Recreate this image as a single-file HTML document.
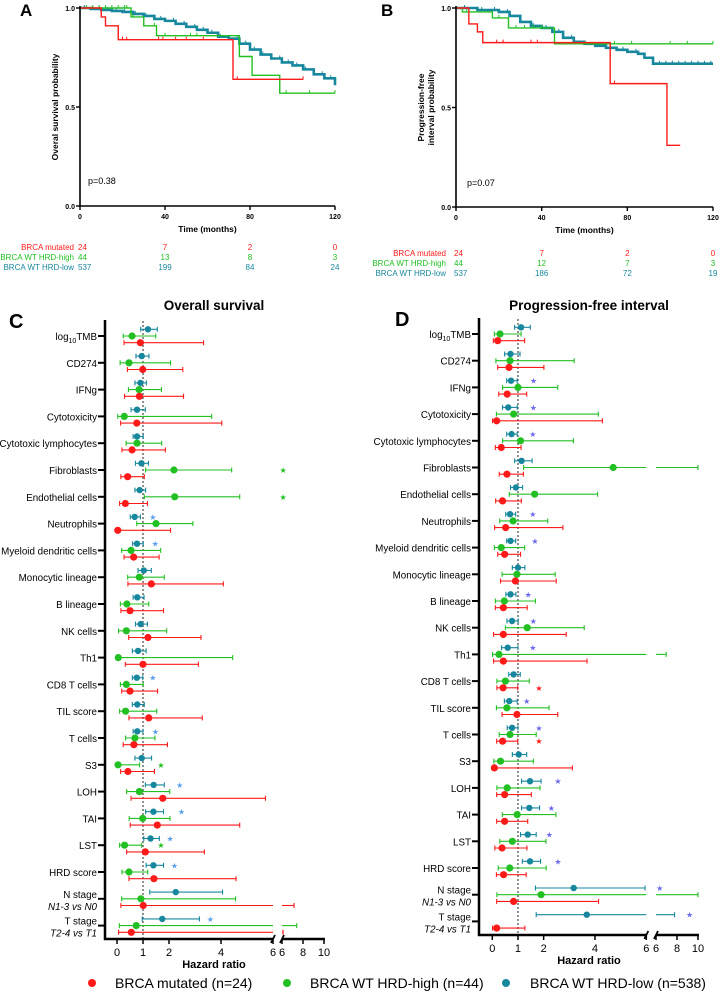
<!DOCTYPE html>
<html><head><meta charset="utf-8"><style>
html,body{margin:0;padding:0;background:#fff;}
svg{display:block;font-family:"Liberation Sans",Arial,sans-serif;}
</style></head><body>
<svg id="fig" width="720" height="992" viewBox="0 0 720 992" xmlns="http://www.w3.org/2000/svg">
<g id="pa"></g>
<g id="pb"></g>
<g id="pc"></g>
<g id="pd"></g>
<g>
  <circle cx="92" cy="983" r="4" fill="#ff1a1a"/>
  <text x="115" y="988" font-size="14">BRCA mutated (n=24)</text>
  <circle cx="287" cy="983" r="4" fill="#22c022"/>
  <text x="310" y="988" font-size="14">BRCA WT HRD-high (n=44)</text>
  <circle cx="506" cy="983" r="4" fill="#17879e"/>
  <text x="530" y="988" font-size="14">BRCA WT HRD-low (n=538)</text>
</g>
</svg>
<script>
// ===== KM data =====
const kmTicks = [0, 40, 80, 120];
const aRedT = [0, 10, 12, 18, 72, 105];
const aRedS = [1, 0.955, 0.91, 0.84, 0.64, 0.64];
const aGreenT = [0, 24, 30, 36, 75, 81, 94, 120];
const aGreenS = [1, 0.955, 0.91, 0.86, 0.755, 0.66, 0.57, 0.57];
const aBlueT = [0, 5, 10, 15, 20, 25, 30, 35, 40, 45, 50, 55, 60, 65, 70, 75, 80, 85, 90, 95, 100, 105, 110, 115, 120];
const aBlueS = [1, 0.995, 0.99, 0.985, 0.98, 0.97, 0.96, 0.945, 0.935, 0.92, 0.905, 0.89, 0.875, 0.855, 0.845, 0.82, 0.79, 0.765, 0.745, 0.725, 0.71, 0.69, 0.665, 0.645, 0.61];
const aRedCens = [20, 22, 37, 39, 45, 50, 58, 74, 105];
const aGreenCens = [3, 6, 9, 12, 15, 18, 21, 22, 25, 35, 40, 52, 55, 97, 108, 120];
const aBlueCens = [2, 6, 9, 13, 17, 21, 26, 31, 38, 44, 49, 54, 58, 62, 66, 70, 74, 78, 82, 86, 90, 94, 98, 102, 106, 110, 114, 118];
const bRedT = [0, 6, 10, 12.5, 72, 98.5, 104.7];
const bRedS = [1, 0.92, 0.88, 0.826, 0.62, 0.31, 0.31];
const bGreenT = [0, 3, 17, 24.5, 46, 120];
const bGreenS = [1, 0.98, 0.95, 0.90, 0.82, 0.82];
const bBlueT = [0, 10, 20, 25, 30, 35, 40, 45, 50, 55, 60, 65, 70, 75, 80, 85, 88, 92, 120];
const bBlueS = [1, 0.99, 0.98, 0.96, 0.93, 0.91, 0.90, 0.88, 0.85, 0.83, 0.82, 0.81, 0.80, 0.79, 0.78, 0.77, 0.75, 0.72, 0.72];
const bRedCens = [19, 22, 35, 38, 74];
const bGreenCens = [5, 20, 28, 32, 36, 40, 60, 74, 82, 100, 108, 120];
const bBlueCens = [4, 12, 18, 24, 30, 36, 42, 48, 54, 60, 66, 72, 78, 84, 92, 95, 98, 101, 104, 107, 110, 113, 116, 119];
const riskA = [["BRCA mutated", 24, 7, 2, 0], ["BRCA WT HRD-high", 44, 13, 8, 3], ["BRCA WT HRD-low", 537, 199, 84, 24]];
const riskB = [["BRCA mutated", 24, 7, 2, 0], ["BRCA WT HRD-high", 44, 12, 7, 3], ["BRCA WT HRD-low", 537, 186, 72, 19]];

// ===== Forest data =====
const rowLabels = ["log10TMB","CD274","IFNg","Cytotoxicity","Cytotoxic lymphocytes","Fibroblasts","Endothelial cells","Neutrophils","Myeloid dendritic cells","Monocytic lineage","B lineage","NK cells","Th1","CD8 T cells","TIL score","T cells","S3","LOH","TAI","LST","HRD score","N stage","T stage"];
const hrTicks = [0, 1, 2, 4, 6];
const hrTicks2 = [6, 8, 10];
// Panel C (overall survival)
const cBlueHR = [1.19,0.95,0.90,0.77,0.77,0.94,0.87,0.68,0.77,1.03,0.78,0.91,0.81,0.76,0.78,0.78,0.95,1.41,1.40,1.29,1.40,2.26,1.74];
const cBlueLo = [0.91,0.73,0.69,0.54,0.62,0.71,0.69,0.51,0.60,0.81,0.62,0.71,0.59,0.59,0.59,0.62,0.69,1.09,1.10,1.03,1.12,1.26,0.97];
const cBlueHi = [1.55,1.23,1.13,1.09,1.01,1.21,1.10,0.90,1.01,1.32,1.04,1.17,1.12,0.99,1.05,1.00,1.33,1.82,1.79,1.63,1.79,4.06,3.17];
const cBlueStar = [null,null,null,null,null,null,null,1.38,1.47,null,null,null,null,1.38,null,1.48,null,2.41,2.48,2.04,2.21,null,3.59];
const cGreenHR = [0.58,0.46,0.85,0.28,0.77,2.19,2.22,1.50,0.54,0.86,0.38,0.36,0.05,0.36,0.33,0.69,0.04,0.86,0.99,0.29,0.46,0.92,0.74];
const cGreenLo = [0.24,0.12,0.44,0.03,0.35,1.10,1.05,0.76,0.18,0.41,0.13,0.06,0.05,0.13,0.10,0.33,0.04,0.37,0.47,0.10,0.19,0.18,0.09];
const cGreenHi = [1.49,2.06,1.71,3.64,1.72,4.41,4.72,2.92,1.68,1.82,1.22,1.91,4.45,1.01,1.53,1.46,0.87,2.03,2.04,0.95,1.18,4.56,7.4];
const cGreenStar = [null,null,null,null,null,6.1,6.1,null,null,null,null,null,null,null,null,null,1.69,null,null,1.69,null,null,null];
const cRedHR = [0.90,0.99,0.86,0.76,0.58,0.41,0.32,0.03,0.64,1.32,0.50,1.19,1.00,0.50,1.22,0.65,0.42,1.76,1.55,1.09,1.42,1.01,0.55];
const cRedLo = [0.27,0.40,0.29,0.14,0.19,0.15,0.10,0.02,0.27,0.42,0.15,0.45,0.32,0.18,0.46,0.24,0.14,0.54,0.51,0.37,0.46,0.15,0.06];
const cRedHi = [3.33,2.53,2.56,4.03,1.86,1.05,1.17,2.06,1.62,4.09,1.79,3.23,3.13,1.56,3.28,1.94,1.44,5.71,4.72,3.36,4.58,7.15,6.1];
// Panel D (progression-free interval)
const dBlueHR = [1.12,0.71,0.73,0.62,0.75,1.14,0.92,0.69,0.71,1.00,0.71,0.77,0.60,0.83,0.66,0.77,1.03,1.47,1.44,1.38,1.47,3.17,3.68];
const dBlueLo = [0.87,0.48,0.56,0.40,0.56,0.87,0.71,0.52,0.56,0.78,0.53,0.57,0.36,0.64,0.47,0.58,0.78,1.14,1.14,1.10,1.17,1.68,1.71];
const dBlueHi = [1.48,1.08,0.97,0.97,0.97,1.55,1.18,0.91,0.91,1.27,0.92,1.01,1.00,1.09,0.97,1.00,1.34,1.90,1.84,1.71,1.88,5.95,7.77];
const dBlueStar = [null,null,1.61,1.60,1.58,null,null,1.58,1.66,null,1.40,1.60,1.58,null,1.34,1.82,null,2.56,2.30,2.22,2.56,6.35,9.2];
const dGreenHR = [0.30,0.69,1.00,0.83,1.10,4.71,1.65,0.81,0.35,0.96,0.47,1.36,0.26,0.51,0.57,0.69,0.32,0.58,0.97,0.78,0.68,1.90,null];
const dGreenLo = [0.08,0.14,0.40,0.16,0.40,1.22,0.66,0.29,0.08,0.38,0.12,0.51,0.01,0.18,0.16,0.27,0.06,0.18,0.39,0.29,0.23,0.18,null];
const dGreenHi = [1.12,3.19,2.55,4.13,3.16,10,4.10,2.16,1.26,2.45,1.68,3.58,6.97,1.44,2.21,1.71,1.60,1.86,2.48,2.09,2.10,10,null];
const dRedHR = [0.21,0.65,0.58,0.17,0.35,0.57,0.40,0.52,0.48,0.90,0.43,0.43,0.43,0.42,0.96,0.40,0.08,0.48,0.48,0.38,0.44,0.83,0.17];
const dRedLo = [0.04,0.21,0.25,0.01,0.12,0.27,0.13,0.09,0.21,0.32,0.12,0.05,0.05,0.18,0.38,0.17,0.01,0.17,0.17,0.10,0.16,0.17,0.01];
const dRedHi = [1.26,2.01,1.34,4.29,1.12,1.21,1.13,2.75,1.10,2.49,1.36,2.88,3.69,0.99,2.55,0.99,3.12,1.52,1.38,1.35,1.32,4.14,1.27];
const dRedStar = [null,null,null,null,null,null,null,null,null,null,null,null,null,1.82,null,1.82,null,null,null,null,null,null,null];

const NS = "http://www.w3.org/2000/svg";
const RED = "#ff1a1a", GREEN = "#22c022", BLUE = "#17879e";
function mk(tag, attrs, parent) {
  const el = document.createElementNS(NS, tag);
  for (const k in attrs) el.setAttribute(k, attrs[k]);
  parent.appendChild(el);
  return el;
}

// ===== KM panels =====
function drawKM(g, cfg) {
  const xS = t => cfg.x0 + (cfg.x1 - cfg.x0) * t / 120;
  const yS = s => cfg.y0 + (cfg.y1 - cfg.y0) * (1 - s);
  let el = mk("text", {x: cfg.letterX, y: 16, "font-size": 17, "font-weight": "bold"}, g);
  
  
  el.textContent = cfg.letter;
  const series = [[cfg.blueT, cfg.blueS, cfg.blueC, BLUE, 2.6], [cfg.greenT, cfg.greenS, cfg.greenC, GREEN, 1.4], [cfg.redT, cfg.redS, cfg.redC, RED, 1.4]];
  series.forEach((sr, si) => {
    const [T, S, C, col, w] = sr;
    let d = "M" + xS(T[0]) + " " + yS(S[0]);
    for (let i = 1; i < T.length; i++) d += " H" + xS(T[i]) + " V" + yS(S[i]);
    const p = mk("path", {d: d, fill: "none", stroke: col, "stroke-width": w}, g);
    
    
    C.forEach(t => {
      let s = S[0];
      for (let i = 0; i < T.length; i++) if (T[i] <= t) s = S[i];
      const c = mk("line", {x1: xS(t), x2: xS(t), y1: yS(s) - 3, y2: yS(s), stroke: col, "stroke-width": 1}, g);
      
      
    });
  });
  const ax = mk("path", {d: `M${cfg.x0} ${cfg.y0 - 2} V${cfg.y1} H${cfg.x1}`, fill: "none", stroke: "#000", "stroke-width": 1.6}, g);
  
  
  [1, 0.5, 0].forEach(v => {
    const tk = mk("line", {x1: cfg.x0 - 4, x2: cfg.x0, y1: yS(v), y2: yS(v), stroke: "#000", "stroke-width": 1.4}, g);
    
    
    const tl = mk("text", {x: cfg.x0 - 5, y: yS(v) + 3, "font-size": 7, "font-weight": "bold", "text-anchor": "end"}, g);
    
    
    tl.textContent = v.toFixed(1);
  });
  kmTicks.forEach(t => {
    const tk = mk("line", {x1: xS(t), x2: xS(t), y1: cfg.y1, y2: cfg.y1 + 4, stroke: "#000", "stroke-width": 1.4}, g);
    
    
    const tl = mk("text", {x: xS(t), y: cfg.y1 + 13, "font-size": 7, "font-weight": "bold", "text-anchor": "middle"}, g);
    
    
    tl.textContent = t;
  });
  const xt = mk("text", {x: (cfg.x0 + cfg.x1) / 2, y: cfg.y1 + 26, "font-size": 8.5, "font-weight": "bold", "text-anchor": "middle"}, g);
  
  
  xt.textContent = "Time (months)";
  const yt = mk("text", {transform: `translate(${cfg.ytX},${(cfg.y0 + cfg.y1) / 2}) rotate(-90)`, "font-size": 8.5, "font-weight": "bold", "text-anchor": "middle"}, g);
  
  
  cfg.ytitle.forEach((line, i) => {
    const ts = mk("tspan", {x: 0, dy: i === 0 ? (cfg.ytitle.length > 1 ? -2 : 0) : 10}, yt);
    ts.textContent = line;
  });
  const pv = mk("text", {x: cfg.pX, y: cfg.pY, "font-size": 9}, g);
  
  
  pv.textContent = cfg.p;
  const cols = [RED, GREEN, BLUE];
  cfg.risk.forEach((row, ri) => {
    const y = cfg.riskY + ri * 10;
    const lab = mk("text", {x: cfg.riskLabelX, y: y, "font-size": 8, fill: cols[ri], "text-anchor": "end"}, g);
    
    
    lab.textContent = row[0];
    for (let k = 0; k < 4; k++) {
      const n = mk("text", {x: k === 0 ? cfg.x0 - 2 : xS(kmTicks[k]), y: y, "font-size": 8, fill: cols[ri], "text-anchor": k === 0 ? "start" : "middle"}, g);
      
      
      n.textContent = row[k + 1];
    }
  });
}
drawKM(document.getElementById("pa"), {letter: "A", letterX: 20, x0: 80, x1: 335, y0: 8, y1: 206, ytX: 58, ytitle: ["Overal survival probability"], p: "p=0.38", pX: 88, pY: 184,
  redT: aRedT, redS: aRedS, redC: aRedCens, greenT: aGreenT, greenS: aGreenS, greenC: aGreenCens, blueT: aBlueT, blueS: aBlueS, blueC: aBlueCens,
  risk: riskA, riskY: 250, riskLabelX: 74});
drawKM(document.getElementById("pb"), {letter: "B", letterX: 381, x0: 456, x1: 713, y0: 8, y1: 207, ytX: 426, ytitle: ["Progression-free", "interval probability"], p: "p=0.07", pX: 467, pY: 186,
  redT: bRedT, redS: bRedS, redC: bRedCens, greenT: bGreenT, greenS: bGreenS, greenC: bGreenCens, blueT: bBlueT, blueS: bBlueS, blueC: bBlueCens,
  risk: riskB, riskY: 256, riskLabelX: 446});

// ===== Forest panels =====
const LFS = 9.8;
function drawForest(g, cfg) {
  const X = v => v <= 6 ? cfg.z + cfg.u * v : cfg.b6 + cfg.u2 * (v - 6);
  const rowY = i => cfg.r0 + i * cfg.rs;
  const brk = X(6);
  let el = mk("text", {x: cfg.letterX, y: cfg.r0 - 8, "font-size": 20, "font-weight": "bold"}, g);
  
  
  el.textContent = cfg.letter;
  const tt = mk("text", {x: cfg.titleX, y: 310, "font-size": 13.5, "font-weight": "bold", "text-anchor": "middle"}, g);
  
  
  tt.textContent = cfg.title;
  const ref = mk("line", {x1: X(1), x2: X(1), y1: cfg.r0 - 15, y2: cfg.axY, stroke: "#555", "stroke-width": 1.3, "stroke-dasharray": "2,2"}, g);
  
  
  function bar(i, hr, lo, hi, col, off, name) {
    if (hr === null) return;
    const y = rowY(i) + off;
    const gg = mk("g", {}, g);
    
    
    if (hi > 6 && lo < 6) {
      mk("line", {x1: X(lo), x2: brk, y1: y, y2: y, stroke: col, "stroke-width": 1.1}, gg);
      mk("line", {x1: cfg.b6, x2: X(hi), y1: y, y2: y, stroke: col, "stroke-width": 1.1}, gg);
    } else {
      mk("line", {x1: X(lo), x2: X(hi), y1: y, y2: y, stroke: col, "stroke-width": 1.1}, gg);
    }
    mk("line", {x1: X(lo), x2: X(lo), y1: y - 2.5, y2: y + 2.5, stroke: col, "stroke-width": 1.1}, gg);
    mk("line", {x1: X(hi), x2: X(hi), y1: y - 2.5, y2: y + 2.5, stroke: col, "stroke-width": 1.1}, gg);
    mk("circle", {cx: X(hr), cy: y, r: col === BLUE ? 3.2 : 3.6, fill: col}, gg);
  }
  function star(i, v, col, off) {
    if (v === null || v === undefined) return;
    const s = mk("text", {x: X(v), y: rowY(i) + off + 3, "font-size": 8, fill: col, "text-anchor": "middle"}, g);
    
    
    s.textContent = "★";
  }
  rowLabels.forEach((lab, i) => {
    const y = rowY(i);
    const tk = mk("line", {x1: cfg.ax - 7, x2: cfg.ax, y1: y, y2: y, stroke: "#000", "stroke-width": 2}, g);
    
    
    const t = mk("text", {x: cfg.ax - 8, y: y + 4, "font-size": LFS, "text-anchor": "end"}, g);
    
    
    if (lab === "log10TMB") {
      const a = mk("tspan", {}, t); a.textContent = "log";
      const b = mk("tspan", {"font-size": 7, dy: 3}, t); b.textContent = "10";
      const c = mk("tspan", {dy: -3}, t); c.textContent = "TMB";
    } else if (lab === "N stage" || lab === "T stage") {
      t.setAttribute("y", y - 1);
      t.textContent = lab;
      const t2 = mk("text", {x: cfg.ax - 8, y: y + 11, "font-size": LFS, "font-style": "italic", "text-anchor": "end"}, g);
      
      
      t2.textContent = lab === "N stage" ? "N1-3 vs N0" : "T2-4 vs T1";
    } else t.textContent = lab;
    bar(i, cfg.bH[i], cfg.bL[i], cfg.bU[i], BLUE, -6.7, 'ci-hrd-low');
    bar(i, cfg.gH[i], cfg.gL[i], cfg.gU[i], GREEN, 0, 'ci-hrd-high');
    bar(i, cfg.rH[i], cfg.rL[i], cfg.rU[i], RED, 6.7, 'ci-brca-mutated');
    star(i, cfg.bS[i], cfg.bSC, -6.7);
    if (cfg.gS) star(i, cfg.gS[i], GREEN, 0);
    if (cfg.rS) star(i, cfg.rS[i], RED, 6.7);
  });
  const ax = mk("path", {d: `M${cfg.ax} ${cfg.r0 - 16} V${cfg.axY} H${brk}`, fill: "none", stroke: "#000", "stroke-width": 2.5}, g);
  
  
  const ax2 = mk("line", {x1: cfg.b6, x2: X(10) + 1, y1: cfg.axY, y2: cfg.axY, stroke: "#000", "stroke-width": 2.5}, g);
  
  
  [brk, cfg.b6].forEach(bx => {
    const s = mk("line", {x1: bx - 2, x2: bx + 2, y1: cfg.axY + 4, y2: cfg.axY - 4, stroke: "#000", "stroke-width": 1.8}, g);
    
    
  });
  hrTicks.forEach(v => {
    const tk = mk("line", {x1: X(v), x2: X(v), y1: cfg.axY, y2: cfg.axY + 5, stroke: "#000", "stroke-width": 1.5}, g);
    
    
    const tl = mk("text", {x: X(v), y: cfg.axY + 17, "font-size": 11, "text-anchor": "middle"}, g);
    
    
    tl.textContent = v;
  });
  hrTicks2.forEach(v => {
    const px = v === 6 ? cfg.b6 : X(v);
    const tk = mk("line", {x1: px, x2: px, y1: cfg.axY, y2: cfg.axY + 5, stroke: "#000", "stroke-width": 1.5}, g);
    
    
    const tl = mk("text", {x: px, y: cfg.axY + 17, "font-size": 11, "text-anchor": "middle"}, g);
    
    
    tl.textContent = v;
  });
  const xt = mk("text", {x: cfg.titleX, y: cfg.axY + 29, "font-size": 11, "font-weight": "bold", "text-anchor": "middle"}, g);
  
  
  xt.textContent = "Hazard ratio";
}
drawForest(document.getElementById("pc"), {letter: "C", letterX: 9, title: "Overall survival", titleX: 214,
  z: 117, u: 26, b6: 282, u2: 10.5, ax: 105, axY: 939, r0: 336, rs: 26.8,
  bH: cBlueHR, bL: cBlueLo, bU: cBlueHi, bS: cBlueStar, bSC: "#5aa0ee",
  gH: cGreenHR, gL: cGreenLo, gU: cGreenHi, gS: cGreenStar,
  rH: cRedHR, rL: cRedLo, rU: cRedHi, rS: null});
drawForest(document.getElementById("pd"), {letter: "D", letterX: 395, title: "Progression-free interval", titleX: 589,
  z: 492.3, u: 25.67, b6: 656, u2: 10.5, ax: 479, axY: 935, r0: 334, rs: 26.7,
  bH: dBlueHR, bL: dBlueLo, bU: dBlueHi, bS: dBlueStar, bSC: "#6a6aee",
  gH: dGreenHR, gL: dGreenLo, gU: dGreenHi, gS: null,
  rH: dRedHR, rL: dRedLo, rU: dRedHi, rS: dRedStar});
</script>
</body></html>
